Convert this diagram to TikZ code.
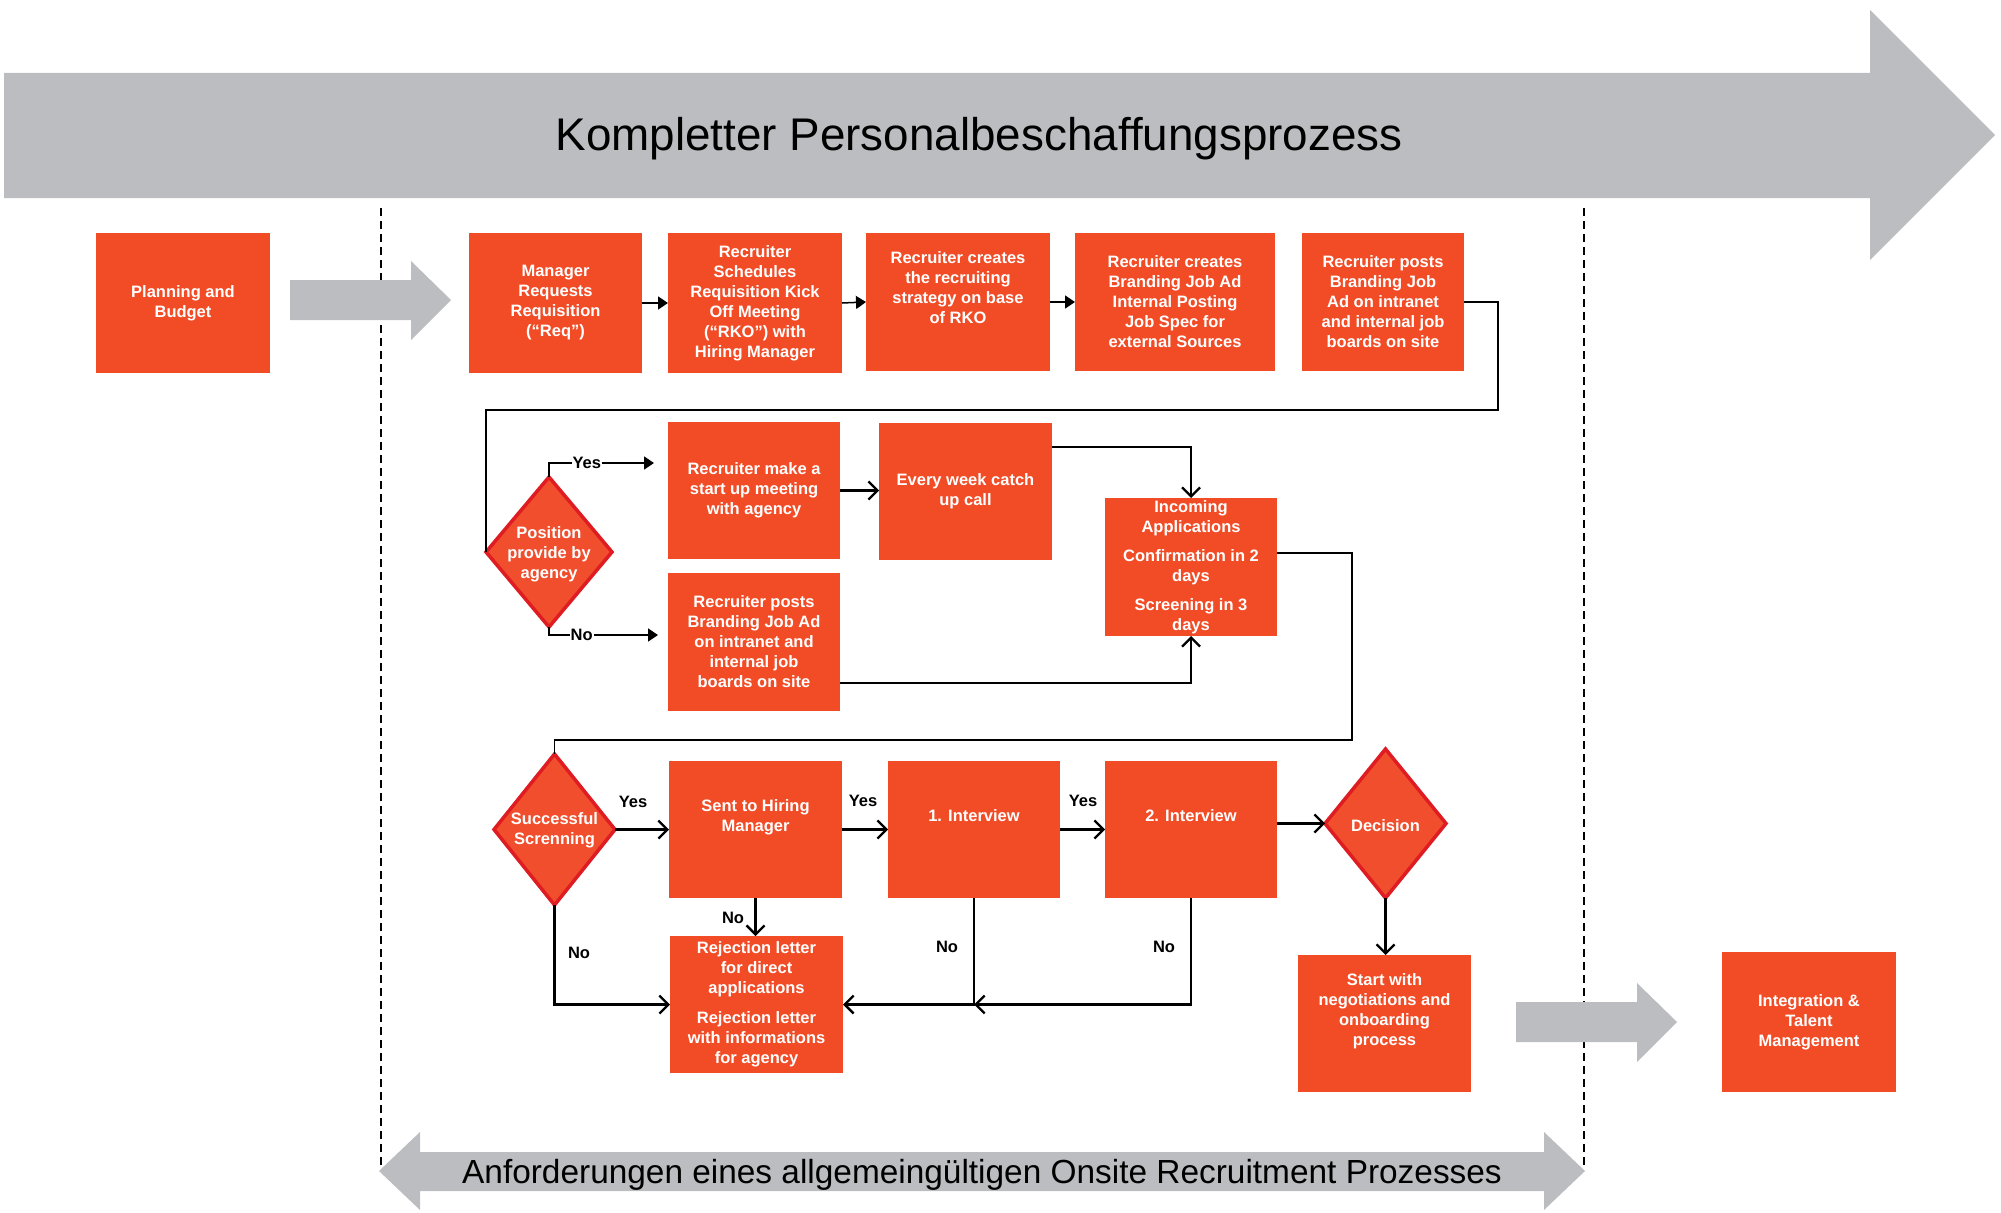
\documentclass[tikz,border=0pt]{standalone}
\usepackage{fontspec}
\setmainfont{Liberation Sans}
\usetikzlibrary{arrows.meta,shapes.geometric}
\definecolor{org}{RGB}{242,76,38}
\definecolor{dfill}{RGB}{240,78,44}
\definecolor{dborder}{RGB}{222,28,34}
\definecolor{gry}{RGB}{188,189,192}
\newcommand{\boxfont}{\bfseries\fontsize{16.5}{20}\selectfont}
\newcommand{\padlast}{\\[8pt]\mbox{}}
\begin{document}
\begin{tikzpicture}[x=1pt,y=-1pt,
  obox/.style={fill=org, text=white, font=\boxfont, align=center, inner sep=0pt, outer sep=0pt},
  dshape/.style={diamond, fill=dfill, draw=dborder, line width=3.5pt, inner sep=0pt, outer sep=0pt},
  dtext/.style={text=white, font=\boxfont, align=center, inner sep=0pt},
  lbl/.style={font=\boxfont, text=black, inner sep=1pt},
  thinc/.style={draw=black, line width=1.5pt},
  thickc/.style={draw=black, line width=2.3pt},
  ftip/.style={-{Triangle[length=10pt,width=13pt]}},
  otip/.style={-{Straight Barb[length=9pt,width=18pt]}},
  dashline/.style={draw=black, line width=1.8pt, dash pattern=on 8pt off 5pt}
]
\useasboundingbox (0,0) rectangle (2001,1212);

% dashed frame lines
\draw[dashline] (381,208) -- (381,1165);
\draw[dashline] (1584,208) -- (1584,1165);

% big grey arrows
\fill[gry] (4,73) -- (1870,73) -- (1870,10) -- (1995,135) -- (1870,260) -- (1870,198) -- (4,198) -- cycle;
\node[font=\fontsize{45.8}{54}\selectfont, inner sep=0pt] (title) at (979,139) {Kompletter Personalbeschaffungsprozess};

\fill[gry] (379,1171) -- (420,1132) -- (420,1152) -- (1544,1152) -- (1544,1132) -- (1585,1171)
  -- (1544,1210) -- (1544,1191) -- (420,1191) -- (420,1210) -- cycle;
\node[font=\fontsize{33.4}{40}\selectfont, inner sep=0pt] (subtitle) at (982,1175) {Anforderungen eines allgemeingültigen Onsite Recruitment Prozesses};

\fill[gry] (290,280) -- (411,280) -- (411,261) -- (451,300) -- (411,340) -- (411,320) -- (290,320) -- cycle;
\fill[gry] (1516,1002) -- (1637,1002) -- (1637,983) -- (1677,1022) -- (1637,1062) -- (1637,1042) -- (1516,1042) -- cycle;

% top row
\node[obox, minimum width=174, minimum height=140] (plan) at (183,303) {Planning and\\Budget};
\node[obox, minimum width=173, minimum height=140] (mgr) at (555.5,303) {Manager\\Requests\\Requisition\\(“Req”)};
\node[obox, minimum width=174, minimum height=140] (sched) at (755,303) {Recruiter\\Schedules\\Requisition Kick\\Off Meeting\\(“RKO”) with\\Hiring Manager};
\node[obox, minimum width=184, minimum height=138] (strat) at (958,302) {Recruiter creates\\the recruiting\\strategy on base\\of RKO\padlast};
\node[obox, minimum width=200, minimum height=138] (brand) at (1175,302) {Recruiter creates\\Branding Job Ad\\Internal Posting\\Job Spec for\\external Sources};
\node[obox, minimum width=162, minimum height=138] (posts) at (1383,302) {Recruiter posts\\Branding Job\\Ad on intranet\\and internal job\\boards on site};

% middle part
\node[dshape, minimum width=126, minimum height=150] (pos) at (549,552) {};
\node[dtext] (post) at (549,554) {Position\\provide by\\agency};
\node[obox, minimum width=172, minimum height=137] (start) at (754,490.5) {Recruiter make a\\start up meeting\\with agency};
\node[obox, minimum width=173, minimum height=137] (week) at (965.5,491.5) {Every week catch\\up call};
\node[obox, minimum width=172, minimum height=138] (posts2) at (754,642) {Recruiter posts\\Branding Job Ad\\on intranet and\\internal job\\boards on site};
\node[obox, minimum width=172, minimum height=138] (incoming) at (1191,567) {Incoming\\Applications\\[9pt]Confirmation in 2\\days\\[9pt]Screening in 3\\days};

% lower part
\node[dshape, minimum width=121, minimum height=151] (succ) at (554.5,829.5) {};
\node[dtext] (succt) at (554.5,830) {Successful\\Screnning};
\node[obox, minimum width=173, minimum height=137] (sent) at (755.5,829.5) {Sent to Hiring\\Manager\padlast};
\node[obox, minimum width=172, minimum height=137] (int1) at (974,829.5) {1. Interview\padlast};
\node[obox, minimum width=172, minimum height=137] (int2) at (1191,829.5) {2. Interview\padlast};
\node[dshape, minimum width=121, minimum height=149] (dec) at (1385.5,823.5) {};
\node[dtext] (dect) at (1385.5,826) {Decision};
\node[obox, minimum width=173, minimum height=137] (reject) at (756.5,1004.5) {Rejection letter\\for direct\\applications\\[10pt]Rejection letter\\with informations\\for agency};
\node[obox, minimum width=173, minimum height=137] (startneg) at (1384.5,1023.5) {Start with\\negotiations and\\onboarding\\process\padlast};
\node[obox, minimum width=174, minimum height=140] (integ) at (1809,1022) {Integration \&\\Talent\\Management};

% coordinates for routed connectors
\coordinate (c1) at (1498,410);
\coordinate (c2) at (1352,740);
\coordinate (yesend) at (654,463);
\coordinate (noend) at (658,635);

% top row connectors
\draw[thinc, ftip] (mgr.east) -- (sched.west);
\draw[thinc, ftip] (sched.east) -- (strat.west);
\draw[thinc, ftip] (strat.east) -- (brand.west);
\draw[thinc] (posts.east) -| (c1) -| (pos.west);

% agency decision
\draw[thinc, ftip] (pos.north) |- node[lbl, fill=white, pos=0.68] (yes1) {Yes} (yesend);
\draw[thinc, ftip] (pos.south) |- node[lbl, fill=white, pos=0.65] (no1) {No} (noend);
\draw[thickc, otip] (start.east) -- (start.east -| week.west);
\draw[thickc, otip] ([yshift=44.5pt]week.east) -| (incoming.north);
\draw[thickc, otip] ([yshift=-41pt]posts2.east) -| (incoming.south);
\draw[thinc] ([yshift=14pt]incoming.east) -| (c2) -| (succ.north);

% screening flow
\draw[thickc, otip] (succ.east) -- (sent.west);
\draw[thickc, otip] (sent.east) -- (int1.west);
\draw[thickc, otip] (int1.east) -- (int2.west);
\draw[thickc, otip] (int2.east |- dec.west) -- (dec.west);
\draw[thickc, otip] (dec.south) -- (dec.south |- startneg.north);
\draw[thickc, otip] (sent.south) -- (sent.south |- reject.north);
\draw[thickc, otip] (succ.south) |- (reject.west);
\draw[thickc, otip] (int1.south) |- (reject.east);
\draw[thickc, otip] (int2.south) |- (int1.south |- reject.east);

% labels
\node[lbl] (yes2) at (633,802) {Yes};
\node[lbl] (yes3) at (863,801) {Yes};
\node[lbl] (yes4) at (1083,801) {Yes};
\node[lbl] (no2) at (733,918) {No};
\node[lbl] (no3) at (579,953) {No};
\node[lbl] (no4) at (947,947) {No};
\node[lbl] (no5) at (1164,947) {No};
\end{tikzpicture}
\end{document}
